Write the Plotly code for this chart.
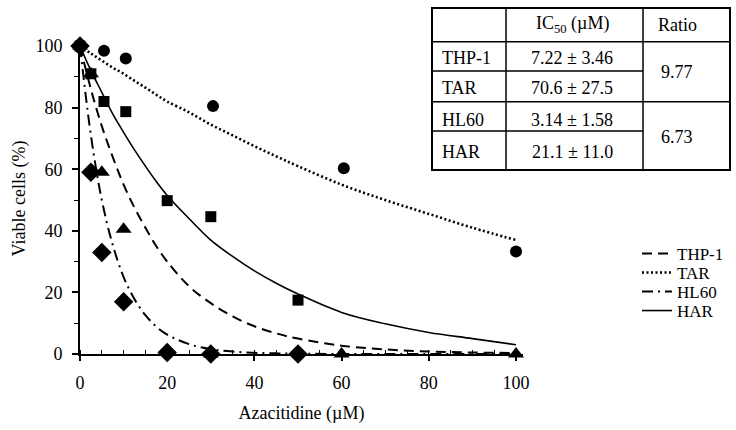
import plotly.graph_objects as go

# ---------------- data ----------------
series_names = ["THP-1", "TAR", "HL60", "HAR"]

dose_thp1 = [0, 2.5, 5, 10, 30, 60, 100]
via_thp1 = [100, 91, 59, 40.5, 0, 0, 0]

dose_tar = [0, 5.5, 10.5, 30.5, 60.5, 100]
via_tar = [100, 98.5, 96, 80.5, 60.3, 33.3]

dose_hl60 = [0, 2.5, 5, 10, 20, 30, 50]
via_hl60 = [100, 59, 33, 17, 0.5, 0, 0]

dose_har = [0, 2.5, 5.5, 10.5, 20, 30, 50]
via_har = [100, 91, 82, 78.7, 49.8, 44.6, 17.5]

# fitted curves
curve_x = [0, 2.5, 5, 7.5, 10, 12.5, 15, 17.5, 20, 25, 30, 35, 40, 45, 50, 60, 70, 80, 90, 100]
fit_thp1 = [100, 86, 74, 64, 55, 47.5, 41, 35, 30, 22, 16.5, 12.2, 9, 6.7, 5, 2.7, 1.5, 0.8, 0.5, 0.3]
fit_tar = [100, 97.6, 95.3, 93, 91, 88.7, 86.5, 84.2, 82, 78.5, 74.5, 71, 67.5, 64.2, 61, 55, 50, 45.5, 41, 37]
fit_hl60 = [100, 71, 50, 35.5, 25, 17.8, 12.6, 8.9, 6.3, 3.2, 1.6, 0.8, 0.4, 0.2, 0.1, 0, 0, 0, 0, 0]
fit_har = [100, 92, 85, 78, 72, 66.3, 61, 56, 51.5, 44, 37, 31.7, 27, 23, 19.5, 13.5, 9.8, 7, 5, 3]

x_ticks = [0, 20, 40, 60, 80, 100]
y_ticks = [0, 20, 40, 60, 80, 100]

table_header = ["", "IC<sub>50</sub> (µM)", "Ratio"]
table_lines = ["THP-1", "TAR", "HL60", "HAR"]
table_ic50 = ["7.22 ± 3.46", "70.6 ± 27.5", "3.14 ± 1.58", "21.1 ± 11.0"]
table_ratio = ["9.77", "6.73"]

# ---------------- layout geometry ----------------
W, H = 736, 430
L, R, T, B = 80, 213, 43, 76
PW = W - L - R
PH = H - T - B
FONT = "Liberation Serif, Times New Roman, Times, serif"


def fx(px):
    return (px - L) / PW


def fy(py):
    return (H - B - py) / PH


fig = go.Figure()

fits = [fit_thp1, fit_tar, fit_hl60, fit_har]
dashes = ["10px,6px", "2px,2.5px", "11px,5px,2px,5px", "solid"]
widths = [2, 2.6, 2, 1.6]
legend_ids = ["legend", "legend2", "legend3", "legend4"]
for name, fit, d, w, lg in zip(series_names, fits, dashes, widths, legend_ids):
    fig.add_trace(go.Scatter(
        x=curve_x, y=fit, mode="lines", name=name, legend=lg,
        line=dict(color="black", width=w, dash=d, shape="spline", smoothing=1.0),
        cliponaxis=False, hoverinfo="skip"))

pts = [(dose_thp1, via_thp1, "triangle-up", 14),
       (dose_tar, via_tar, "circle", 12),
       (dose_hl60, via_hl60, "diamond", 15),
       (dose_har, via_har, "square", 11)]
for (xs, ys, sym, sz), name in zip(pts, series_names):
    fig.add_trace(go.Scatter(
        x=xs, y=ys, mode="markers", name=name, showlegend=False,
        marker=dict(symbol=sym, size=sz, color="black", line=dict(width=0)),
        cliponaxis=False))

# ---------------- table ----------------
cols = [432, 506, 643, 730]
rows = [8, 41.7, 71, 101.7, 131, 170]
shapes = []
shapes.append(dict(type="rect", xref="paper", yref="paper",
                   x0=fx(cols[0]), x1=fx(cols[3]), y0=fy(rows[0]), y1=fy(rows[5]),
                   line=dict(color="black", width=2)))
for cx in cols[1:3]:
    shapes.append(dict(type="line", xref="paper", yref="paper",
                       x0=fx(cx), x1=fx(cx), y0=fy(rows[0]), y1=fy(rows[5]),
                       line=dict(color="black", width=1.5)))
for i, ry in enumerate(rows[1:5]):
    xe = cols[3] if i in (0, 2) else cols[2]
    shapes.append(dict(type="line", xref="paper", yref="paper",
                       x0=fx(cols[0]), x1=fx(xe), y0=fy(ry), y1=fy(ry),
                       line=dict(color="black", width=1.5)))

ann = []
tfont = dict(family=FONT, size=18, color="black")
ann.append(dict(x=fx(572), y=fy(25), text=table_header[1]))
ann.append(dict(x=fx(677), y=fy(25), text=table_header[2]))
row_y = [58, 88, 120, 152]
for name, val, ry in zip(table_lines, table_ic50, row_y):
    ann.append(dict(x=fx(440), y=fy(ry), text=name, xanchor="left"))
    ann.append(dict(x=fx(572), y=fy(ry), text=val))
ann.append(dict(x=fx(677), y=fy(72), text=table_ratio[0]))
ann.append(dict(x=fx(677), y=fy(137), text=table_ratio[1]))
for a in ann:
    a.update(xref="paper", yref="paper", showarrow=False, font=tfont)
    a.setdefault("xanchor", "center")
    a["yanchor"] = "middle"

legend_rows = [254, 273, 292, 311]
legends = {}
for lg, ry in zip(legend_ids, legend_rows):
    legends[lg] = dict(x=fx(637), y=fy(ry), xanchor="left", yanchor="middle",
                       bgcolor="rgba(0,0,0,0)", font=dict(family=FONT, size=17),
                       itemwidth=30)

fig.update_layout(
    width=W, height=H,
    margin=dict(l=L, r=R, t=T, b=B, pad=0, autoexpand=False),
    paper_bgcolor="white", plot_bgcolor="white",
    font=dict(family=FONT, size=17, color="black"),
    shapes=shapes, annotations=ann,
    xaxis=dict(range=[0, 101.6], tickvals=x_ticks, ticktext=[str(v) for v in x_ticks],
               automargin=False,
               showgrid=False, zeroline=False, showline=True, linecolor="black", linewidth=1.6,
               ticks="outside", ticklen=5, tickwidth=1.5, tickcolor="black",
               minor=dict(dtick=5, ticks="inside", ticklen=4, tickwidth=1.2, tickcolor="black", showgrid=False),
               tickfont=dict(family=FONT, size=18), ticklabelstandoff=7,
               title=dict(text="Azacitidine (µM)", font=dict(family=FONT, size=18), standoff=14)),
    yaxis=dict(range=[0, 101], tickvals=y_ticks, ticktext=[str(v) for v in y_ticks],
               automargin=False,
               showgrid=False, zeroline=False, showline=True, linecolor="black", linewidth=1.6,
               ticks="outside", ticklen=6, tickwidth=1.5, tickcolor="black",
               minor=dict(dtick=10, ticks="outside", ticklen=4, tickwidth=1.2, tickcolor="black", showgrid=False),
               tickfont=dict(family=FONT, size=18), ticklabelstandoff=6,
               title=dict(text="Viable cells (%)", font=dict(family=FONT, size=18), standoff=5)),
    **legends,
)

fig.write_html("out.html")
